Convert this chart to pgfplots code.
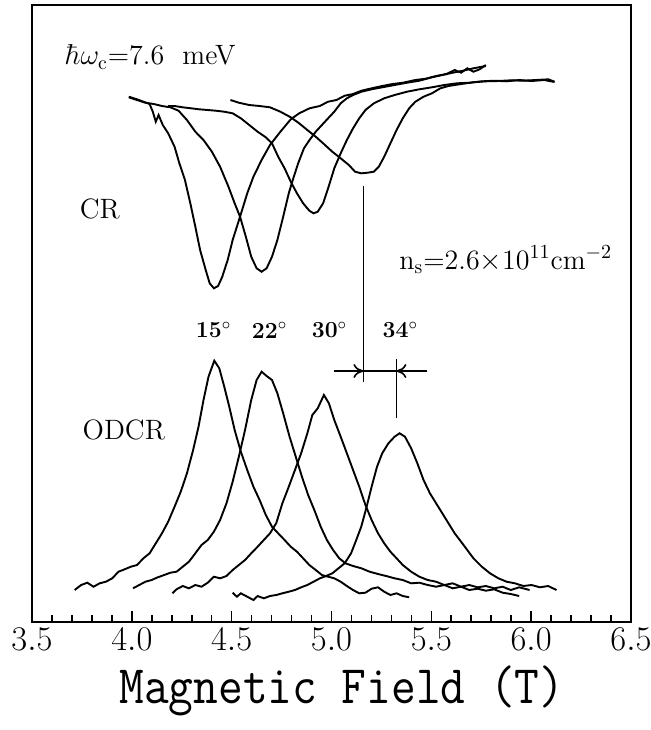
\documentclass[border=0pt]{standalone}
\usepackage{fontspec}
\usepackage{graphicx}
\usepackage{pgfplots}
\pgfplotsset{compat=1.18}
\usetikzlibrary{arrows.meta}

% CR traces (field in T, signal in arbitrary units, downward)
\pgfplotstableread{
B y
3.985 96.7
4.026 99.3
4.058 101.7
4.089 104
4.105 111.7
4.120 121.7
4.134 115
4.155 125
4.182 133.3
4.214 146.7
4.238 163.3
4.266 180
4.293 203.3
4.318 226.7
4.342 250
4.370 270
4.390 283.3
4.411 288.3
4.432 286
4.453 276.7
4.480 260
4.505 240
4.542 216.7
4.578 193.3
4.609 176.7
4.650 160
4.692 145
4.744 131.7
4.796 119.3
4.838 113.3
4.890 108.3
4.941 106
4.983 101.7
5.025 100
5.066 95.7
5.108 94
5.150 90.7
5.201 88.3
5.254 86
5.306 84
5.358 82.7
5.420 80
5.472 78.7
5.524 76
5.576 74
5.617 70
5.649 72.7
5.680 68.3
5.711 71.7
5.742 69.3
5.773 65
}\crA
\pgfplotstableread{
B y
3.985 97.3
4.026 100
4.068 102.7
4.110 104
4.151 106
4.193 107.3
4.234 110.7
4.276 120
4.318 131.7
4.359 140
4.401 151.7
4.442 166.7
4.484 186.7
4.515 203.3
4.542 216.7
4.571 236.7
4.598 256.7
4.625 268.3
4.650 271.7
4.675 268.3
4.702 256.7
4.729 240
4.758 216.7
4.786 193.3
4.806 180
4.833 163.3
4.862 148.3
4.890 140
4.921 131.7
4.952 125
4.983 118.3
5.014 111.7
5.046 103.3
5.077 98.3
5.108 95
5.150 91.7
5.201 89.3
5.254 87.3
5.316 85
5.378 82.7
5.440 80.7
5.503 77.3
5.555 75
5.607 72.7
5.659 70.7
5.711 68.3
5.753 66.7
5.773 66
}\crB
\pgfplotstableread{
B y
4.182 106
4.214 106
4.255 107.3
4.297 108.3
4.338 109.3
4.380 110
4.421 110.7
4.463 111.7
4.505 113.3
4.546 118.3
4.588 125
4.630 131.7
4.671 137.3
4.702 143.3
4.733 156.7
4.765 168.3
4.796 181.7
4.827 193.3
4.858 203.3
4.889 210.7
4.910 213.3
4.931 211.7
4.958 203.3
4.983 188.3
5.014 168.3
5.046 153.3
5.077 140
5.108 128.3
5.139 118.3
5.170 110
5.212 103.3
5.264 98.3
5.316 95
5.378 91.7
5.440 89.3
5.503 87.3
5.565 85
5.628 83.3
5.690 82.7
5.753 81.3
5.815 80.7
5.877 81.3
5.940 80
6.002 81
6.065 80
6.117 82
}\crC
\pgfplotstableread{
B y
4.494 100
4.536 102.7
4.588 105
4.640 106
4.692 107.3
4.744 111.7
4.796 117.3
4.838 123.3
4.879 130
4.921 136.7
4.962 144
5.004 151.7
5.046 158.3
5.087 165
5.118 171.7
5.149 173.3
5.181 172.7
5.212 171.7
5.237 166.7
5.264 156.7
5.295 143.3
5.326 130
5.357 118.3
5.389 108.3
5.420 101.7
5.461 96.7
5.503 93.3
5.545 88.3
5.586 86
5.649 84
5.711 82.3
5.773 81.3
5.836 81
5.898 80.3
5.961 80.7
6.023 80
6.086 79.3
6.117 81.7
}\crD

% ODCR traces
\pgfplotstableread{
B y
3.714 590
3.746 585
3.777 582.7
3.808 586.7
3.839 583.3
3.870 581.7
3.902 578.3
3.933 571.7
3.964 569.3
3.995 566.7
4.026 565
4.058 558.3
4.089 553.3
4.120 543.3
4.151 533.3
4.182 521.7
4.214 506.7
4.245 491.7
4.276 473.3
4.307 450
4.334 426.7
4.359 400
4.384 376.7
4.413 360.7
4.438 368.3
4.463 386.7
4.488 406.7
4.515 430
4.546 451.7
4.578 470
4.609 486.7
4.640 500
4.671 515
4.702 526.7
4.733 533.3
4.765 540
4.796 546.7
4.827 551.7
4.858 558.3
4.889 565
4.921 570
4.952 575
4.983 576.7
5.014 578.3
5.046 581.7
5.077 586
5.108 590
5.139 593.3
5.170 592.7
5.201 588.7
5.233 587.3
5.264 591.7
5.295 595
5.326 593.3
5.357 596
5.389 597.3
}\odA
\pgfplotstableread{
B y
4.006 588.3
4.037 585
4.068 581.7
4.099 580
4.130 577.3
4.162 575
4.193 572.7
4.224 571.7
4.255 566.7
4.286 561.7
4.318 553.3
4.349 545
4.380 540
4.411 531.7
4.442 520
4.474 503.3
4.505 481.7
4.536 456.7
4.567 430
4.598 400
4.625 380
4.650 371.7
4.675 376
4.702 380
4.729 393.3
4.758 413.3
4.790 436.7
4.821 456.7
4.852 476.7
4.883 495
4.914 510
4.946 526.7
4.977 540
5.008 550
5.039 558.3
5.070 563.3
5.108 566
5.150 568.3
5.191 571.7
5.233 574
5.274 576
5.316 578.3
5.357 580
5.399 583.3
5.440 582.7
5.482 585
5.524 586.7
5.565 585
5.607 588.3
5.649 586.7
5.690 590
5.732 588.7
5.773 590.7
5.815 589.3
5.857 592.7
5.898 594
5.940 596
}\odB
\pgfplotstableread{
B y
4.203 593.3
4.224 589.3
4.255 586
4.286 588.3
4.318 585
4.349 586.7
4.380 582.7
4.411 576.7
4.442 578.3
4.474 576
4.505 570
4.536 565
4.567 560
4.598 553.3
4.630 546.7
4.661 540
4.692 533.3
4.723 523.3
4.754 503.3
4.786 486.7
4.817 470
4.848 453.3
4.879 433.3
4.904 415
4.931 408.3
4.962 395
4.987 403.3
5.014 420
5.046 436.7
5.077 453.3
5.108 470
5.139 486.7
5.170 505
5.201 520
5.233 533.3
5.264 543.3
5.295 551.7
5.326 558.3
5.357 565
5.399 571.7
5.440 576.7
5.482 580
5.524 581.7
5.565 585
5.607 583.3
5.649 586.7
5.690 585
5.732 587.3
5.773 586
5.815 588.3
5.857 586.7
5.898 590
5.940 587.3
5.992 590
}\odC
\pgfplotstableread{
B y
4.505 592.7
4.526 596.7
4.546 593.3
4.578 596.7
4.609 600
4.630 596
4.661 598.3
4.692 596
4.723 595
4.754 593.3
4.786 591.7
4.817 590
4.848 587.3
4.879 585
4.910 581.7
4.942 578.3
4.973 576
5.004 573.3
5.035 568.3
5.066 563.3
5.098 553.3
5.124 540
5.149 526.7
5.174 508.3
5.201 486.7
5.228 466.7
5.254 453.3
5.285 443.3
5.316 436.7
5.341 433.3
5.368 436.7
5.399 448.3
5.430 463.3
5.461 480
5.493 493.3
5.524 503.3
5.555 513.3
5.586 523.3
5.617 533.3
5.649 541.7
5.680 550
5.711 558.3
5.753 566.7
5.794 573.3
5.836 578.3
5.877 581.7
5.919 583.3
5.961 586
6.002 585
6.044 587.3
6.085 586
6.127 590
}\odD

\begin{document}
\begin{tikzpicture}
\path[use as bounding box] (-16pt,-54pt) rectangle (309.5pt,311pt);
\begin{axis}[
    at={(0,0)}, anchor=south west,
    scale only axis,
    width=299.5pt, height=308.5pt,
    xmin=3.5, xmax=6.5,
    ymin=5, ymax=622, y dir=reverse,
    ytick=\empty,
    xtick={3.5,4.0,4.5,5.0,5.5,6.0,6.5},
    minor x tick num=4,
    xtick pos=left,
    tick align=inside,
    major tick length=5.5pt,
    minor tick length=3.5pt,
    every tick/.style={black, line width=0.8pt},
    axis line style={line width=0.9pt},
    xticklabel style={font=\fontsize{17.5}{20}\selectfont, inner sep=0pt, yshift=-3pt,
        /pgf/number format/fixed, /pgf/number format/fixed zerofill,
        /pgf/number format/precision=1},
    xlabel={\scalebox{1}[1.13]{\fontsize{24}{28}\selectfont\ttfamily Magnetic Field (T)}},
    xlabel style={at={(axis description cs:0.5175,0)}, anchor=base, yshift=-40.5pt, inner sep=0pt},
]
\addplot[black, solid, line width=0.95pt, no markers] table[x=B, y=y] {\crA};
\addplot[black, solid, line width=0.95pt, no markers] table[x=B, y=y] {\crB};
\addplot[black, solid, line width=0.95pt, no markers] table[x=B, y=y] {\crC};
\addplot[black, solid, line width=0.95pt, no markers] table[x=B, y=y] {\crD};
\addplot[black, solid, line width=0.95pt, no markers] table[x=B, y=y] {\odA};
\addplot[black, solid, line width=0.95pt, no markers] table[x=B, y=y] {\odB};
\addplot[black, solid, line width=0.95pt, no markers] table[x=B, y=y] {\odC};
\addplot[black, solid, line width=0.95pt, no markers] table[x=B, y=y] {\odD};

\node[anchor=west, font=\fontsize{14}{16}\selectfont] at (axis cs:3.63,57) {$\hbar\omega_{\mathrm{c}}$=7.6\ \ meV};
\node[font=\fontsize{14}{16}\selectfont] at (axis cs:3.84,209) {CR};
\node[font=\fontsize{14}{16}\selectfont] at (axis cs:3.96,430) {ODCR};
\node[anchor=west, font=\fontsize{14}{16}\selectfont] at (axis cs:5.305,260) {n$_{\mathrm{s}}$=2.6$\times$10$^{11}$cm$^{-2}$};
\node[font=\bfseries\fontsize{11.5}{13}\selectfont] at (axis cs:4.41,330) {15$^{\circ}$};
\node[font=\bfseries\fontsize{11.5}{13}\selectfont] at (axis cs:4.69,330) {22$^{\circ}$};
\node[font=\bfseries\fontsize{11.5}{13}\selectfont] at (axis cs:4.99,330) {30$^{\circ}$};
\node[font=\bfseries\fontsize{11.5}{13}\selectfont] at (axis cs:5.345,330) {34$^{\circ}$};

\draw[line width=0.8pt] (axis cs:5.16,186) -- (axis cs:5.16,382);
\draw[line width=0.8pt] (axis cs:5.325,359) -- (axis cs:5.325,418);
\draw[line width=0.8pt] (axis cs:5.16,371) -- (axis cs:5.325,371);
\draw[line width=0.8pt, -{To[length=5pt,width=7pt]}] (axis cs:5.015,371) -- (axis cs:5.16,371);
\draw[line width=0.8pt, -{To[length=5pt,width=7pt]}] (axis cs:5.48,371) -- (axis cs:5.325,371);
\end{axis}
\end{tikzpicture}
\end{document}
